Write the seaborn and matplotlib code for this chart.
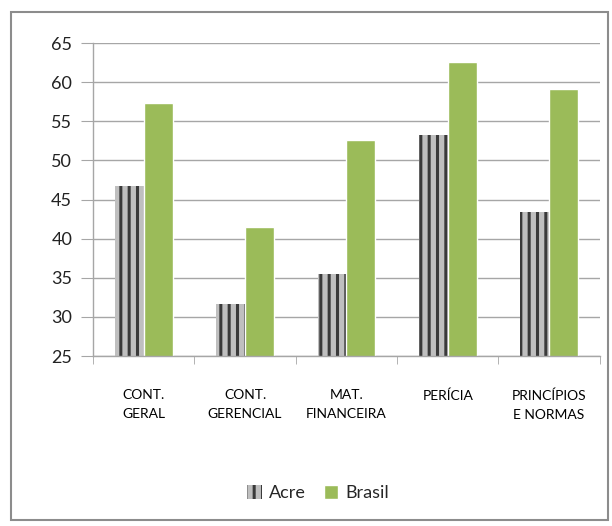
import numpy as np
import pandas as pd
import matplotlib.pyplot as plt
import seaborn as sns
from matplotlib.patches import Rectangle, Patch

categories = ['CONT.\nGERAL', 'CONT.\nGERENCIAL', 'MAT.\nFINANCEIRA', 'PERÍCIA', 'PRINCÍPIOS\nE NORMAS']
acre = [46.7, 31.6, 35.5, 53.3, 43.4]
brasil = [57.4, 41.5, 52.6, 62.6, 59.2]
yticks = [25, 30, 35, 40, 45, 50, 55, 60, 65]

df = pd.DataFrame({
    'categoria': categories * 2,
    'valor': acre + brasil,
    'serie': ['Acre'] * 5 + ['Brasil'] * 5,
})

sns.set_style('white')
plt.rcParams['font.family'] = ['Lato', 'DejaVu Sans']
plt.rcParams['hatch.linewidth'] = 2.2

fig = plt.figure(figsize=(6.12, 5.26), dpi=100)
ax = fig.add_axes([0.152, 0.323, 0.828, 0.595])

green = '#9bbb59'
grey = '#bfbfbf'
sns.barplot(data=df, x='categoria', y='valor', hue='serie', order=categories,
            palette={'Acre': grey, 'Brasil': green}, width=0.57,
            ax=ax, legend=False, saturation=1)

# striped look for Acre bars
n = len(categories)
for p in ax.patches[:n]:
    p.set_hatch('||')
    p.set_edgecolor('#3a3a3a')
    p.set_linewidth(0)

ax.set_ylim(25, 65)
ax.set_yticks(yticks)
ax.set_xlim(-0.5, n - 0.5)
ax.yaxis.grid(True, color='#a6a6a6', linewidth=1)
ax.set_axisbelow(True)
ax.set_xlabel('')
ax.set_ylabel('')
for s in ['top', 'right']:
    ax.spines[s].set_visible(False)
for s in ['left', 'bottom']:
    ax.spines[s].set_color('#a6a6a6')
    ax.spines[s].set_linewidth(1)

ax.tick_params(axis='y', labelsize=13, length=9, color='#a6a6a6', left=True, pad=6, labelcolor='#222222')
ax.tick_params(axis='x', labelsize=10, length=0, pad=24, labelcolor='black')
ax.set_xticks(np.arange(-0.5, n, 1), minor=True)
ax.tick_params(axis='x', which='minor', length=6, color='#a6a6a6', bottom=True)
for t in ax.get_xticklabels():
    t.set_linespacing(1.7)

handles = [Patch(facecolor=grey, edgecolor='#3a3a3a', hatch='||', linewidth=0, label='Acre'),
           Patch(facecolor=green, label='Brasil')]
fig.legend(handles=handles, loc='center', bbox_to_anchor=(0.52, 0.062), ncol=2,
           frameon=False, fontsize=13, handlelength=0.8, handleheight=0.8,
           handletextpad=0.4, columnspacing=1.0)

fig.patches.append(Rectangle((0.018, 0.011), 0.975, 0.966, transform=fig.transFigure,
                             fill=False, edgecolor='#8c8c8c', linewidth=1.5))

fig.savefig('out.png', dpi=100)
